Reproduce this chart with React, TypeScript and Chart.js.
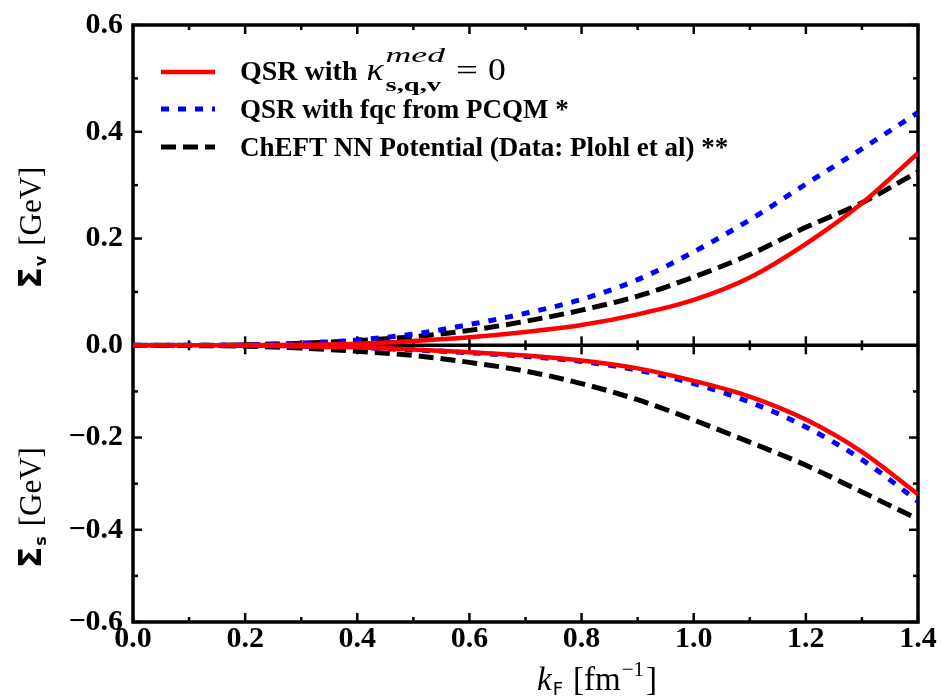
import React, { useEffect, useRef } from "react";
import { Chart, registerables } from "chart.js";

Chart.register(...registerables);

// ---------------- data ----------------
const kF = [0, 0.1, 0.2, 0.3, 0.4, 0.5, 0.6, 0.7, 0.8, 0.9, 1.0, 1.1, 1.2, 1.3, 1.4];

// Sigma_v (top panel)
const sigmaV_QSR = [0, 0, 0.0005, 0.001, 0.003, 0.008, 0.015, 0.025, 0.038, 0.058, 0.085, 0.127, 0.19, 0.266, 0.36];
const sigmaV_PCQM = [0, 0, 0.001, 0.004, 0.01, 0.021, 0.039, 0.06, 0.086, 0.123, 0.175, 0.235, 0.302, 0.368, 0.436];
const sigmaV_ChEFT = [0, 0, 0.001, 0.004, 0.009, 0.016, 0.028, 0.045, 0.066, 0.092, 0.128, 0.17, 0.221, 0.267, 0.325];

// Sigma_s (bottom panel)
const sigmaS_QSR = [0, 0, -0.0005, -0.002, -0.004, -0.009, -0.015, -0.022, -0.033, -0.05, -0.077, -0.111, -0.161, -0.231, -0.323];
const sigmaS_PCQM = [0, 0, -0.0005, -0.002, -0.005, -0.01, -0.016, -0.024, -0.035, -0.054, -0.083, -0.123, -0.177, -0.248, -0.338];
const sigmaS_ChEFT = [0, -0.0005, -0.002, -0.006, -0.013, -0.022, -0.037, -0.056, -0.083, -0.118, -0.162, -0.21, -0.26, -0.318, -0.377];

const seriesLabels = [
  "QSR with",
  "QSR with fqc from PCQM *",
  "ChEFT NN Potential (Data: Plohl et al) **",
];
const seriesColors = ["#ff0000", "#0000ff", "#000000"];

// ticks
const xMajor = [0, 0.2, 0.4, 0.6, 0.8, 1.0, 1.2, 1.4];
const xMinor = [0.1, 0.3, 0.5, 0.7, 0.9, 1.1, 1.3];
const yvMajor = [0, 0.2, 0.4, 0.6];
const yvMinor = [0.1, 0.3, 0.5];
const ysMajor = [-0.6, -0.4, -0.2, 0];
const ysMinor = [-0.5, -0.3, -0.1];

const TICK_FONT = { family: "'Liberation Serif', serif", weight: "bold" as const, size: 30, lineHeight: 1 };

function fmt(v: number): string {
  const s = Math.abs(v).toFixed(1);
  return v < -1e-9 ? "\u2212" + s : s;
}

function mk(label: string, data: number[], yAxisID: string, color: string, dash: number[], width: number, order: number) {
  return {
    label,
    data: kF.map((x, i) => ({ x, y: data[i] })),
    yAxisID,
    xAxisID: "x",
    borderColor: color,
    backgroundColor: color,
    borderDash: dash,
    borderWidth: width,
    borderCapStyle: "butt" as const,
    pointRadius: 0,
    fill: false,
    cubicInterpolationMode: "monotone" as const,
    order,
  };
}

const DASH_RED: number[] = [];
const DASH_BLUE = [8, 9];
const DASH_BLACK = [15, 7];

// ---------------- plugins ----------------
const framePlugin = {
  id: "frameTicks",
  beforeDatasetsDraw(chart: any) {
    const { ctx, chartArea } = chart;
    const { left, right, top, bottom } = chartArea;
    const xs = chart.scales.x;
    const yv = chart.scales.yv;
    const ys = chart.scales.ys;
    const mid = yv.getPixelForValue(0);
    ctx.save();
    ctx.strokeStyle = "#000";
    ctx.lineWidth = 3.5;
    ctx.strokeRect(left, top, right - left, bottom - top);
    ctx.beginPath();
    ctx.moveTo(left, mid);
    ctx.lineTo(right, mid);
    ctx.stroke();

    ctx.lineWidth = 2.5;
    const seg = (x1: number, y1: number, x2: number, y2: number) => {
      ctx.beginPath();
      ctx.moveTo(x1, y1);
      ctx.lineTo(x2, y2);
      ctx.stroke();
    };
    const xt = (vals: number[], len: number) => {
      vals.forEach((v) => {
        const px = xs.getPixelForValue(v);
        seg(px, bottom, px, bottom - len);
        seg(px, top, px, top + len);
        seg(px, mid - len, px, mid + len);
      });
    };
    xt(xMajor, 9);
    xt(xMinor, 5);
    const yt = (scale: any, vals: number[], len: number) => {
      vals.forEach((v) => {
        const py = scale.getPixelForValue(v);
        seg(left, py, left + len, py);
        seg(right, py, right - len, py);
      });
    };
    yt(yv, yvMajor, 9);
    yt(yv, yvMinor, 5);
    yt(ys, ysMajor, 9);
    yt(ys, ysMinor, 5);
    ctx.restore();
  },
};

function drawScaled(ctx: CanvasRenderingContext2D, text: string, font: string, x: number, y: number, sx: number) {
  ctx.save();
  ctx.font = font;
  ctx.translate(x, y);
  ctx.scale(sx, 1);
  ctx.fillText(text, 0, 0);
  const w = ctx.measureText(text).width * sx;
  ctx.restore();
  return w;
}

const annotPlugin = {
  id: "annot",
  afterDraw(chart: any) {
    const { ctx, chartArea } = chart;
    const { left, top } = chartArea;
    const ds = chart.data.datasets;
    ctx.save();
    ctx.fillStyle = "#000";
    ctx.textBaseline = "alphabetic";
    ctx.textAlign = "left";

    // ---- legend ----
    const rowsY = [top + 47, top + 84, top + 122];
    const lx0 = left + 28;
    const lx1 = left + 82;
    const tx = left + 107;
    for (let i = 0; i < 3; i++) {
      const d = ds[i];
      ctx.save();
      ctx.strokeStyle = d.borderColor;
      ctx.lineWidth = d.borderWidth;
      ctx.setLineDash(d.borderDash);
      ctx.lineCap = "butt";
      ctx.beginPath();
      ctx.moveTo(lx0, rowsY[i]);
      ctx.lineTo(lx1, rowsY[i]);
      ctx.stroke();
      ctx.restore();
    }
    // row 1
    const y1 = rowsY[0] + 8;
    ctx.font = "bold 28px 'Liberation Serif', serif";
    ctx.fillText(seriesLabels[0], tx, y1);
    let cx = tx + ctx.measureText(seriesLabels[0]).width + 9;
    cx += drawScaled(ctx, "\u03BA", "italic 31px 'Liberation Serif', serif", cx, y1, 1.15) + 2;
    const wMed = drawScaled(ctx, "med", "italic 21px 'Liberation Serif', serif", cx, y1 - 18, 1.7);
    const wSub = drawScaled(ctx, "s,q,v", "bold 19px 'Liberation Serif', serif", cx, y1 + 11, 1.5);
    cx += Math.max(wMed, wSub) + 11;
    cx += drawScaled(ctx, "=", "30px 'Liberation Serif', serif", cx, y1, 1.3) + 10;
    drawScaled(ctx, "0", "31px 'Liberation Serif', serif", cx, y1, 1.15);
    // rows 2, 3
    ctx.font = "bold 27px 'Liberation Serif', serif";
    ctx.fillText(seriesLabels[1], tx, rowsY[1] + 9);
    ctx.fillText(seriesLabels[2], tx, rowsY[2] + 9);

    // ---- y titles ----
    const drawYTitle = (sub: string, cy: number) => {
      ctx.save();
      ctx.translate(41, cy);
      ctx.rotate(-Math.PI / 2);
      const fSig = "bold 31px 'DejaVu Sans', sans-serif";
      const fSub = "bold 16px 'DejaVu Sans', sans-serif";
      const fUnit = "31px 'Liberation Serif', serif";
      ctx.font = fSig;
      const w1 = ctx.measureText("\u03A3").width;
      ctx.font = fSub;
      const w2 = ctx.measureText(sub).width;
      ctx.font = fUnit;
      const w3 = ctx.measureText("[GeV]").width;
      const gap = 10;
      let x = -(w1 + w2 + gap + w3) / 2;
      ctx.font = fSig;
      ctx.fillText("\u03A3", x, 0);
      x += w1 + 1;
      ctx.font = fSub;
      ctx.fillText(sub, x, 5);
      x += w2 + gap;
      ctx.font = fUnit;
      ctx.fillText("[GeV]", x, 0);
      ctx.restore();
    };
    drawYTitle("v", 228);
    drawYTitle("s", 508);

    // ---- x title ----
    {
      const by = 690;
      let x = 537;
      ctx.font = "italic 33px 'Liberation Serif', serif";
      ctx.fillText("k", x, by);
      x += ctx.measureText("k").width + 1;
      ctx.font = "18px 'DejaVu Sans', sans-serif";
      ctx.fillText("F", x, by + 5);
      x += ctx.measureText("F").width + 10;
      ctx.font = "33px 'Liberation Serif', serif";
      ctx.fillText("[fm", x, by);
      x += ctx.measureText("[fm").width + 1;
      ctx.font = "21px 'Liberation Serif', serif";
      ctx.fillText("\u22121", x, by - 14);
      x += ctx.measureText("\u22121").width + 2;
      ctx.font = "33px 'Liberation Serif', serif";
      ctx.fillText("]", x, by);
    }
    ctx.restore();
  },
};

// ---------------- component ----------------
export default function App() {
  const ref = useRef<HTMLCanvasElement>(null);

  useEffect(() => {
    const canvas = ref.current;
    if (!canvas) return;
    const datasets = [
      mk("QSR", sigmaV_QSR, "yv", seriesColors[0], DASH_RED, 4.5, 1),
      mk("PCQM", sigmaV_PCQM, "yv", seriesColors[1], DASH_BLUE, 5, 2),
      mk("ChEFT", sigmaV_ChEFT, "yv", seriesColors[2], DASH_BLACK, 5, 3),
      mk("QSR s", sigmaS_QSR, "ys", seriesColors[0], DASH_RED, 4.5, 1),
      mk("PCQM s", sigmaS_PCQM, "ys", seriesColors[1], DASH_BLUE, 5, 2),
      mk("ChEFT s", sigmaS_ChEFT, "ys", seriesColors[2], DASH_BLACK, 5, 3),
    ];
    const yCommon = (vals: number[], hideZero: boolean, weight: number, min: number, max: number) => ({
      type: "linear" as const,
      position: "left" as const,
      stack: "panels",
      stackWeight: weight,
      min,
      max,
      grid: { display: false, drawTicks: false },
      border: { display: false },
      afterBuildTicks: (s: any) => {
        s.ticks = vals.map((v) => ({ value: v }));
      },
      afterFit: (s: any) => {
        s.width = 133;
      },
      ticks: {
        color: "#000",
        padding: 10,
        font: TICK_FONT,
        callback: (v: any) => (hideZero && Math.abs(Number(v)) < 1e-9 ? "" : fmt(Number(v))),
      },
    });
    const chart = new Chart(canvas, {
      type: "line",
      data: { datasets },
      options: {
        responsive: false,
        devicePixelRatio: 1,
        animation: false,
        events: [],
        layout: { padding: { top: 20, right: 24, left: 0, bottom: 0 } },
        plugins: { legend: { display: false }, tooltip: { enabled: false }, title: { display: false } },
        scales: {
          x: {
            type: "linear",
            position: "bottom",
            min: 0,
            max: 1.4,
            grid: { display: false, drawTicks: false },
            border: { display: false },
            afterBuildTicks: (s: any) => {
              s.ticks = xMajor.map((v) => ({ value: v }));
            },
            afterFit: (s: any) => {
              s.height = 78;
            },
            ticks: {
              color: "#000",
              padding: 2,
              autoSkip: false,
              maxRotation: 0,
              font: TICK_FONT,
              callback: (v: any) => fmt(Number(v)),
            },
          },
          ys: yCommon(ysMajor, true, 279, -0.6, 0),
          yv: yCommon(yvMajor, false, 323, 0, 0.6),
        },
      } as any,
      plugins: [framePlugin, annotPlugin],
    });
    return () => chart.destroy();
  }, []);

  return (
    <div style={{ position: "absolute", left: 0, top: 0, width: 942, height: 700, background: "#fff" }}>
      <canvas ref={ref} width={942} height={700} style={{ display: "block", width: 942, height: 700 }} />
    </div>
  );
}
